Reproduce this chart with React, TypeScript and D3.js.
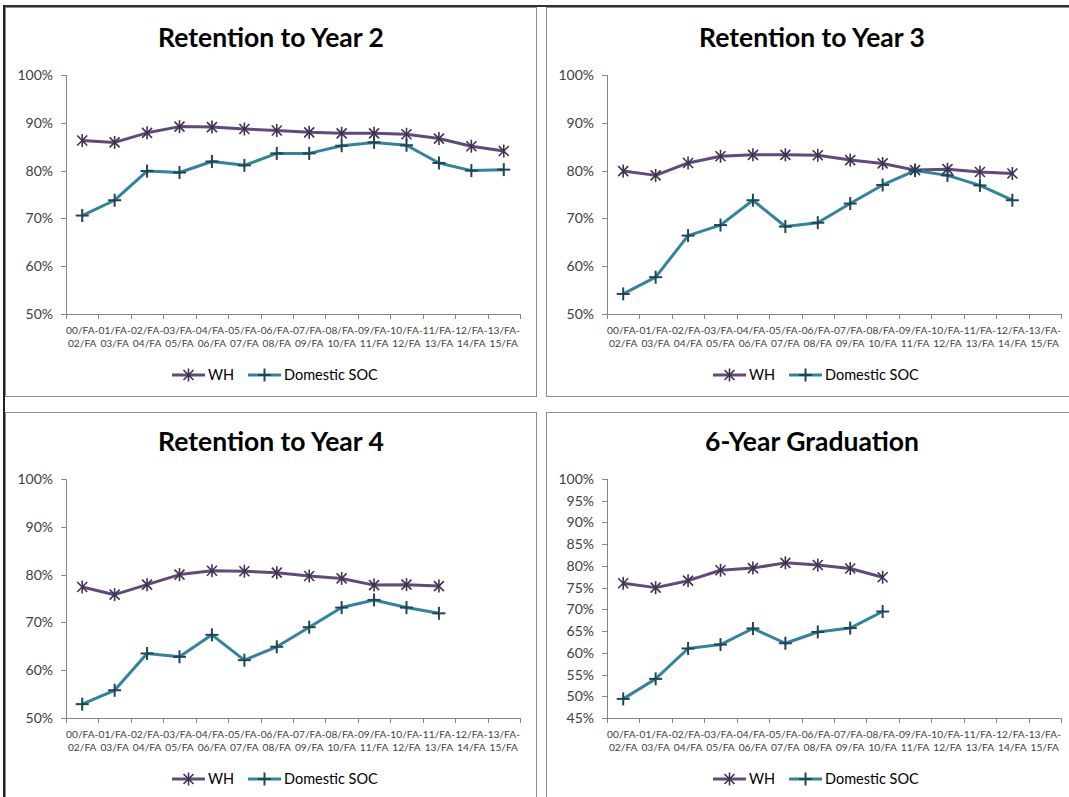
import React from "react";
import * as d3 from "d3";

// cohort labels (two lines each)
const cohortTop = ["00/FA-", "01/FA-", "02/FA-", "03/FA-", "04/FA-", "05/FA-", "06/FA-", "07/FA-", "08/FA-", "09/FA-", "10/FA-", "11/FA-", "12/FA-", "13/FA-"];
const cohortBottom = ["02/FA", "03/FA", "04/FA", "05/FA", "06/FA", "07/FA", "08/FA", "09/FA", "10/FA", "11/FA", "12/FA", "13/FA", "14/FA", "15/FA"];
const seriesNames = ["WH", "Domestic SOC"];

// retention to year 2
const y2WH = [86.3, 85.9, 87.9, 89.2, 89.1, 88.7, 88.4, 88.0, 87.8, 87.8, 87.6, 86.7, 85.1, 84.1];
const y2SOC = [70.6, 73.8, 79.9, 79.6, 81.9, 81.1, 83.6, 83.6, 85.2, 85.9, 85.3, 81.6, 80.0, 80.2];
// retention to year 3
const y3WH = [79.9, 79.0, 81.6, 83.0, 83.3, 83.3, 83.2, 82.2, 81.5, 80.1, 80.3, 79.7, 79.4];
const y3SOC = [54.2, 57.7, 66.4, 68.6, 73.8, 68.3, 69.1, 73.1, 77.0, 80.0, 79.0, 76.9, 73.8];
// retention to year 4
const y4WH = [77.4, 75.8, 77.9, 80.0, 80.8, 80.7, 80.4, 79.7, 79.2, 77.8, 77.9, 77.6];
const y4SOC = [52.9, 55.8, 63.5, 62.8, 67.4, 62.1, 64.9, 69.0, 73.1, 74.7, 73.1, 71.9];
// 6-year graduation
const g6WH = [76.0, 75.0, 76.6, 79.0, 79.5, 80.7, 80.2, 79.4, 77.4];
const g6SOC = [49.4, 54.0, 61.0, 61.9, 65.6, 62.2, 64.8, 65.7, 69.5];

const ticks10 = [50, 60, 70, 80, 90, 100];
const ticks5 = [45, 50, 55, 60, 65, 70, 75, 80, 85, 90, 95, 100];

const panels = [
  { title: "Retention to Year 2", wh: y2WH, soc: y2SOC, ticks: ticks10, dx: 0, dy: 0 },
  { title: "Retention to Year 3", wh: y3WH, soc: y3SOC, ticks: ticks10, dx: 541, dy: 0 },
  { title: "Retention to Year 4", wh: y4WH, soc: y4SOC, ticks: ticks10, dx: 0, dy: 404 },
  { title: "6-Year Graduation", wh: g6WH, soc: g6SOC, ticks: ticks5, dx: 541, dy: 404 },
];

const WH_LINE = "#604a7b";
const WH_MARK = "#3f3151";
const SOC_LINE = "#31849b";
const SOC_MARK = "#1d4756";
const FONT = "Lato, 'Open Sans', sans-serif";

const Star = ({ x, y }: { x: number; y: number }) => (
  <g stroke={WH_MARK} strokeWidth={1.6}>
    <line x1={x - 5} y1={y - 5} x2={x + 5} y2={y + 5} />
    <line x1={x - 5} y1={y + 5} x2={x + 5} y2={y - 5} />
    <line x1={x} y1={y - 6.5} x2={x} y2={y + 6.5} />
  </g>
);

const Plus = ({ x, y }: { x: number; y: number }) => (
  <g stroke={SOC_MARK} strokeWidth={2}>
    <line x1={x - 6.5} y1={y} x2={x + 6.5} y2={y} />
    <line x1={x} y1={y - 6.5} x2={x} y2={y + 6.5} />
  </g>
);

function Panel({ p }: { p: (typeof panels)[number] }) {
  const left = 66, right = 520, top = 75, bottom = 314;
  const x = d3.scaleBand<number>().domain(d3.range(cohortTop.length)).range([left, right]);
  const y = d3.scaleLinear().domain([p.ticks[0], 100]).range([bottom, top]);
  const cx = (i: number) => (x(i) as number) + x.bandwidth() / 2;
  const line = d3.line<number>().x((_, i) => cx(i)).y((d) => y(d));
  const bounds = d3.range(cohortTop.length + 1).map((i) => left + i * x.bandwidth());

  return (
    <g transform={`translate(${p.dx},${p.dy})`} fontFamily={FONT}>
      <text x={271} y={47} textAnchor="middle" fontSize={26.5} fontWeight="bold" fill="#000">
        {p.title}
      </text>
      {/* y axis */}
      <line x1={left + 0.5} x2={left + 0.5} y1={top} y2={bottom} stroke="#868686" />
      {p.ticks.map((t) => (
        <g key={t}>
          <line x1={left - 5} x2={left} y1={Math.round(y(t)) + 0.5} y2={Math.round(y(t)) + 0.5} stroke="#868686" />
          <text x={53} y={y(t) + 5} textAnchor="end" fontSize={14} fill="#404040">
            {t}%
          </text>
        </g>
      ))}
      {/* x axis */}
      <line x1={left} x2={right} y1={bottom + 0.5} y2={bottom + 0.5} stroke="#868686" />
      {bounds.map((b, i) => (
        <line key={i} x1={Math.round(b) + 0.5} x2={Math.round(b) + 0.5} y1={bottom} y2={bottom + 5} stroke="#868686" />
      ))}
      {cohortTop.map((c, i) => (
        <g key={c} fontSize={10.2} fill="#404040">
          <text x={cx(i)} y={334} textAnchor="middle">
            {c}
          </text>
          <text x={cx(i)} y={347} textAnchor="middle">
            {cohortBottom[i]}
          </text>
        </g>
      ))}
      {/* series */}
      <path d={line(p.wh) ?? ""} fill="none" stroke={WH_LINE} strokeWidth={3} strokeLinejoin="round" />
      <path d={line(p.soc) ?? ""} fill="none" stroke={SOC_LINE} strokeWidth={3} strokeLinejoin="round" />
      {p.wh.map((v, i) => (
        <Star key={"w" + i} x={cx(i)} y={y(v)} />
      ))}
      {p.soc.map((v, i) => (
        <Plus key={"s" + i} x={cx(i)} y={y(v)} />
      ))}
      {/* legend */}
      <line x1={172} x2={205} y1={375} y2={375} stroke={WH_LINE} strokeWidth={3} />
      <Star x={188.5} y={375} />
      <text x={208} y={380} fontSize={14.5} fill="#000">{seriesNames[0]}</text>
      <line x1={248} x2={281} y1={375} y2={375} stroke={SOC_LINE} strokeWidth={3} />
      <Plus x={264.5} y={375} />
      <text x={284} y={380} fontSize={14.5} fill="#000">{seriesNames[1]}</text>
    </g>
  );
}

export default function App() {
  return (
    <svg width={1069} height={797} style={{ position: "absolute", left: 0, top: 0, background: "#fff" }}>
      <rect width={1069} height={797} fill="#fff" />
      {/* chart frames */}
      <rect x={5.5} y={7.5} width={531} height={389} fill="none" stroke="#8c8c8c" />
      <rect x={546.5} y={7.5} width={530} height={389} fill="none" stroke="#8c8c8c" />
      <rect x={5.5} y={412.5} width={531} height={400} fill="none" stroke="#8c8c8c" />
      <rect x={546.5} y={412.5} width={530} height={400} fill="none" stroke="#8c8c8c" />
      <line x1={3} x2={1069} y1={6} y2={6} stroke="#333" strokeWidth={2} />
      <line x1={4} x2={4} y1={5} y2={797} stroke="#222" strokeWidth={2} />
      {panels.map((p) => (
        <Panel key={p.title} p={p} />
      ))}
    </svg>
  );
}
